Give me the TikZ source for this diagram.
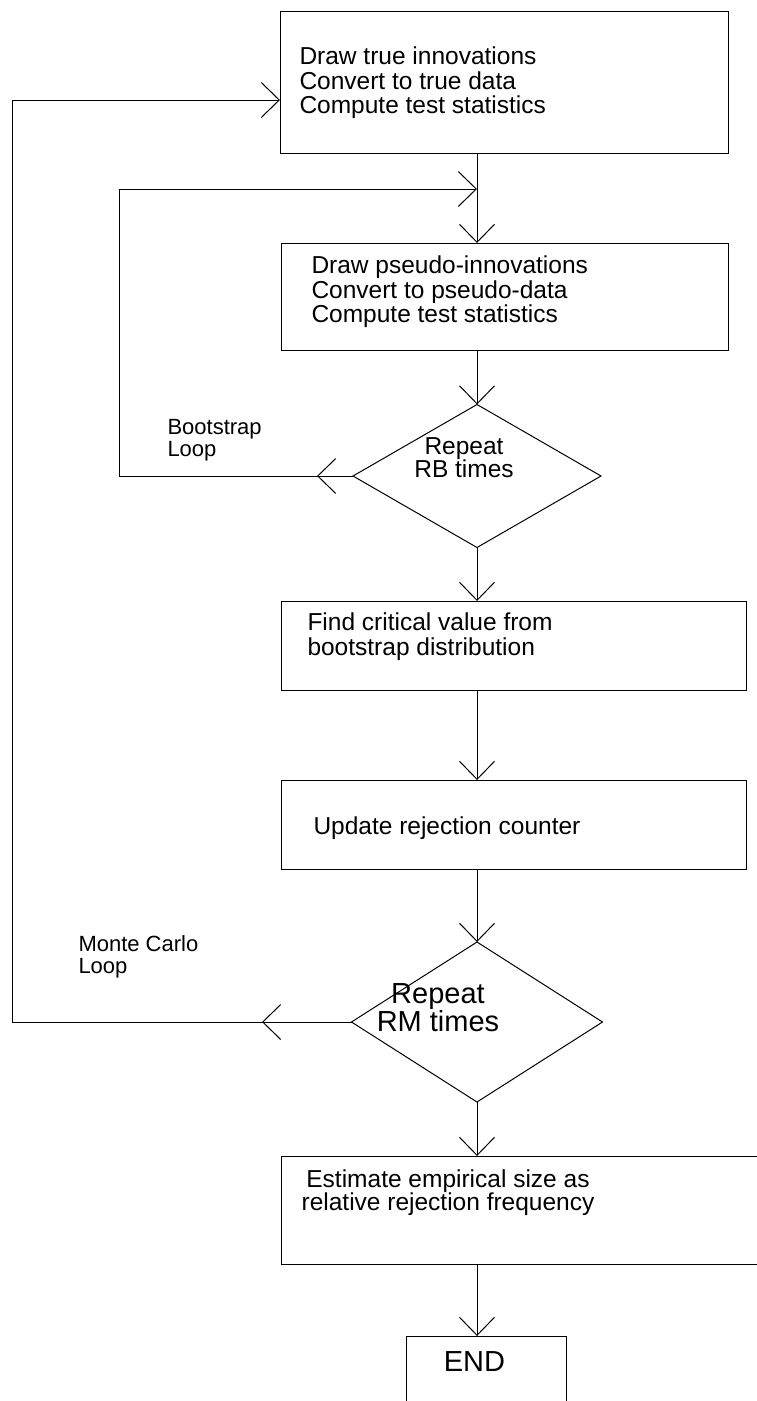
\documentclass[tikz,border=0pt]{standalone}
\usepackage{fontspec}
\setmainfont{Liberation Sans}
\usetikzlibrary{arrows.meta,shapes.geometric}
\begin{document}
\begin{tikzpicture}[x=1pt,y=-1pt,
  line width=1pt,
  box/.style={draw=black, rectangle, inner sep=0pt, outer sep=0pt},
  dia/.style={draw=black, diamond, inner sep=0pt, outer sep=0pt},
  txt/.style={inner sep=0pt, font=\fontsize{24.5}{24.5}\selectfont, align=left, anchor=west},
  ctxt/.style={inner sep=0pt, font=\fontsize{24.5}{23}\selectfont, align=center},
  big/.style={inner sep=0pt, font=\fontsize{29}{27}\selectfont, align=center},
  lbl/.style={inner sep=0pt, font=\fontsize{22}{22.5}\selectfont, align=left, anchor=west},
  arr/.style={-{Straight Barb[length=18pt,width=35pt]}}
]
\useasboundingbox (0,0) rectangle (757,1401);
\clip (0,0) rectangle (757,1401);
\fill[white] (0,0) rectangle (757,1401);

% boxes
\node[box, minimum width=448pt, minimum height=142pt] (b1) at (504,82) {};
\node[box, minimum width=447pt, minimum height=107pt] (b2) at (504.5,296.5) {};
\node[dia, minimum width=248pt, minimum height=143pt] (d1) at (477,476) {};
\node[box, minimum width=465pt, minimum height=89pt] (b3) at (513.5,645.5) {};
\node[box, minimum width=465pt, minimum height=89pt] (b4) at (513.5,824.5) {};
\node[dia, minimum width=251pt, minimum height=160pt] (d2) at (477,1022) {};
\node[box, minimum width=519pt, minimum height=108pt] (b5) at (540.5,1210) {};
\node[box, minimum width=160pt, minimum height=114pt] (be) at (486,1393) {};

% texts
\node[txt] (t1) at (299,83) {Draw true innovations\\Convert to true data\\Compute test statistics};
\node[txt] (t2) at (311,292) {Draw pseudo-innovations\\Convert to pseudo-data\\Compute test statistics};
\node[ctxt] (td1) at (464,458) {Repeat\\RB times};
\node[txt] (t3) at (307,636.5) {Find critical value from\\bootstrap distribution};
\node[txt] (t4) at (313,828) {Update rejection counter};
\node[big] (td2) at (438,1008) {Repeat\\RM times};
\node[ctxt] (t5) at (448,1192.5) {Estimate empirical size as\\relative rejection frequency};
\node[inner sep=0pt, font=\fontsize{29}{29}\selectfont] (te) at (474.5,1362) {END};
\node[lbl] (lb) at (167,440) {Bootstrap\\Loop};
\node[lbl] (lm) at (78,957) {Monte Carlo\\Loop};

% main flow
\draw[arr] (b1.south -| d1.north) -- (b2.north -| d1.north);
\draw[arr] (b2.south -| d1.north) -- (d1.north);
\draw[arr] (d1.south) -- (b3.north -| d1.south);
\draw[arr] (b3.south -| d1.south) -- (b4.north -| d1.south);
\draw[arr] (b4.south -| d2.north) -- (d2.north);
\draw[arr] (d2.south) -- (b5.north -| d2.south);
\draw[arr] (b5.south -| d2.south) -- (be.north -| d2.south);

% bootstrap loop
\coordinate (bc) at (119,476);
\coordinate (bj) at (477,189);
\coordinate (bt) at (317,476);
\draw[arr] (d1.west) -- (bc) |- (bj);
\draw[arr] (d1.west) -- (bt);

% monte carlo loop
\coordinate (mc) at (12,1022);
\coordinate (mj) at (280,100);
\coordinate (mt) at (262,1022);
\draw[arr] (d2.west) -- (mc) |- (mj);
\draw[arr] (d2.west) -- (mt);
\end{tikzpicture}
\end{document}
